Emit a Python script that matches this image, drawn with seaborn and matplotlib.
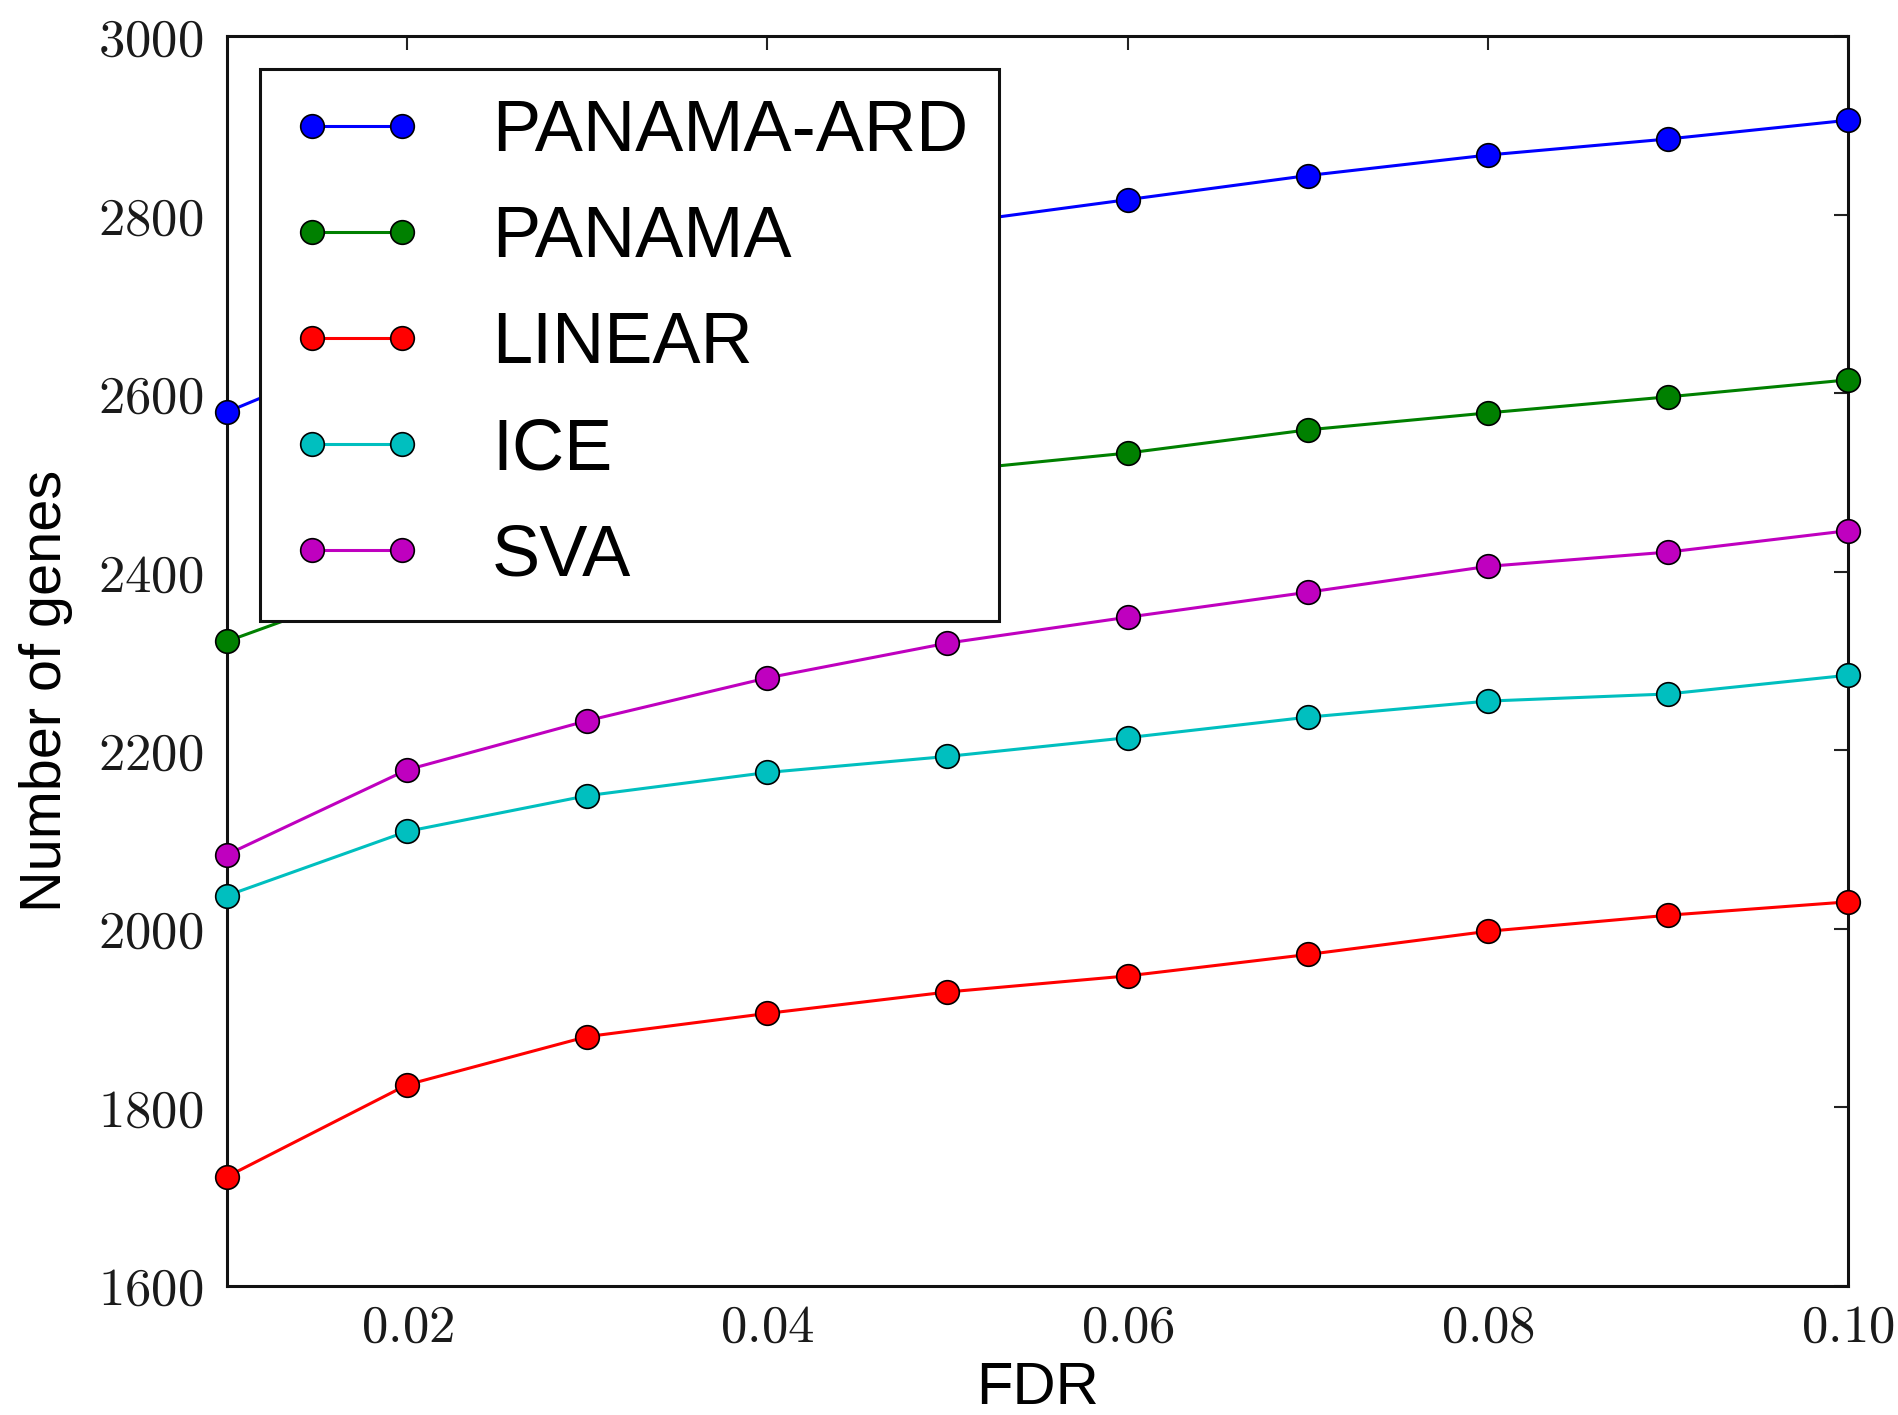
import numpy as np
import pandas as pd
import matplotlib
matplotlib.use("Agg")
import matplotlib.pyplot as plt
import seaborn as sns
from matplotlib.ticker import FuncFormatter

# FDR thresholds and number of significant genes per method
fdr = [0.01, 0.02, 0.03, 0.04, 0.05, 0.06, 0.07, 0.08, 0.09, 0.10]
panama_ard = [2579, 2663, 2715, 2757, 2790, 2817, 2844, 2867, 2885, 2906]
panama = [2322, 2395, 2440, 2480, 2513, 2533, 2559, 2578, 2596, 2615]
linear = [1722, 1825, 1879, 1905, 1929, 1947, 1971, 1997, 2015, 2030]
ice = [2037, 2109, 2149, 2175, 2193, 2214, 2237, 2255, 2263, 2284]
sva = [2083, 2178, 2233, 2281, 2320, 2349, 2377, 2406, 2422, 2446]

methods = ['PANAMA-ARD', 'PANAMA', 'LINEAR', 'ICE', 'SVA']
series = [panama_ard, panama, linear, ice, sva]
colors = ['#0000ff', '#008000', '#ff0000', '#00bfbf', '#bf00bf']

sns.set_style("white")
plt.rcParams['font.family'] = ['Liberation Sans', 'DejaVu Sans']
plt.rcParams['mathtext.fontset'] = 'cm'
plt.rcParams['text.color'] = 'black'
plt.rcParams['axes.labelcolor'] = 'black'
plt.rcParams['xtick.direction'] = 'in'
plt.rcParams['ytick.direction'] = 'in'

fig = plt.figure(figsize=(18.98, 14.15), dpi=100)
ax = fig.add_axes([0.1196, 0.0915, 0.8541, 0.8828])

for name, vals, c in zip(methods, series, colors):
    df = pd.DataFrame({'FDR': fdr, 'genes': vals})
    sns.lineplot(data=df, x='FDR', y='genes', ax=ax, color=c, label=name,
                 marker='o', markersize=17, markeredgecolor='black',
                 markeredgewidth=1.2, linewidth=2.2, clip_on=False, zorder=3)

ax.set_xlim(0.01, 0.10)
ax.set_ylim(1600, 3000)
ax.set_xticks([0.02, 0.04, 0.06, 0.08, 0.10])
ax.set_yticks(np.arange(1600, 3001, 200))
ax.xaxis.set_major_formatter(FuncFormatter(lambda v, p: r'$%.2f$' % v))
ax.yaxis.set_major_formatter(FuncFormatter(lambda v, p: r'$%d$' % v))
ax.tick_params(axis='both', which='major', labelsize=38, length=10, width=1.5,
               top=True, right=True, color='#222222', labelcolor='#1a1a1a')
ax.tick_params(axis='y', pad=17)
ax.tick_params(axis='x', pad=12)
for s in ax.spines.values():
    s.set_linewidth(2.2)
    s.set_color('#111111')

ax.set_xlabel('FDR', fontsize=43, labelpad=6)
ax.set_ylabel('Number of genes', fontsize=41.5)
ax.yaxis.set_label_coords(-0.095, 0.476)

leg = ax.legend(loc='upper left', fontsize=52, numpoints=2, handlelength=1.85,
                handletextpad=0.95, labelspacing=0.54, borderpad=0.42,
                borderaxespad=0.45, fancybox=False, framealpha=1)
leg.get_frame().set_edgecolor('#111111')
leg.get_frame().set_linewidth(2.2)
leg.set_zorder(5)

fig.savefig('out.png', dpi=100)
